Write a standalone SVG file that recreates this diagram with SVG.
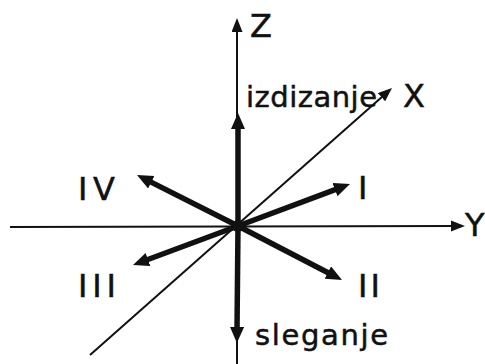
<svg xmlns="http://www.w3.org/2000/svg" width="485" height="364" viewBox="0 0 485 364">
<defs>
<style>
.thin{stroke:#111;stroke-width:2;fill:none}
.thick{stroke:#111;stroke-width:5.5;fill:none}
.lbl{font-family:"DejaVu Sans","Liberation Sans",sans-serif;font-size:32px;fill:#111;stroke:#111;stroke-width:0.5}
.word{font-family:"DejaVu Sans","Liberation Sans",sans-serif;font-size:29px;fill:#111;stroke:#111;stroke-width:0.5}
</style>
<marker id="ah" markerUnits="userSpaceOnUse" markerWidth="16" markerHeight="12" refX="2" refY="5.5" orient="auto">
<path d="M0,0 L14,5.5 L0,11 z" fill="#111"/>
</marker>
<marker id="ahb" markerUnits="userSpaceOnUse" markerWidth="18" markerHeight="16" refX="3" refY="7" orient="auto">
<path d="M0,0 L16,7 L0,14 z" fill="#111"/>
</marker>
</defs>
<rect width="485" height="364" fill="#fff"/>
<g id="connectors">
<line class="thin" x1="237" y1="364" x2="237" y2="30" marker-end="url(#ah)"/>
<line class="thin" x1="10" y1="227" x2="453" y2="226" marker-end="url(#ah)"/>
<line class="thin" x1="90" y1="355" x2="383" y2="95.9" marker-end="url(#ah)"/>
<line class="thick" x1="238" y1="226" x2="238" y2="126" marker-end="url(#ahb)"/>
<line class="thick" x1="238" y1="226" x2="237" y2="330" marker-end="url(#ahb)"/>
<line class="thick" x1="238" y1="226" x2="148.6" y2="180.9" marker-end="url(#ahb)"/>
<line class="thick" x1="238" y1="226" x2="145.2" y2="260.5" marker-end="url(#ahb)"/>
<line class="thick" x1="238" y1="226" x2="337.8" y2="188.6" marker-end="url(#ahb)"/>
<line class="thick" x1="238" y1="226" x2="330.5" y2="274" marker-end="url(#ahb)"/>
<circle cx="238" cy="226" r="6" fill="#111"/>
</g>
<g id="axis-z"><text class="lbl" x="250" y="37">Z</text></g>
<g id="axis-x"><text class="lbl" x="403" y="107">X</text></g>
<g id="axis-y"><text class="lbl" x="465" y="236">Y</text></g>
<g id="izdizanje"><text class="word" x="246" y="107" textLength="131" lengthAdjust="spacing">izdizanje</text></g>
<g id="sleganje"><text class="word" x="255" y="345" textLength="133" lengthAdjust="spacing">sleganje</text></g>
<g id="n-I"><text class="lbl" x="358" y="199">I</text></g>
<g id="n-II"><text class="lbl" x="358" y="297" textLength="22" lengthAdjust="spacing">II</text></g>
<g id="n-III"><text class="lbl" x="78" y="297" textLength="38" lengthAdjust="spacing">III</text></g>
<g id="n-IV"><text class="lbl" x="78" y="200" textLength="37" lengthAdjust="spacing">IV</text></g>
</svg>
